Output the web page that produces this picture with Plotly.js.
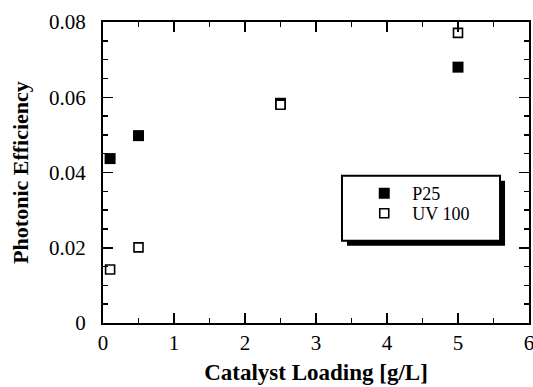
<!DOCTYPE html>
<html>
<head>
<meta charset="utf-8">
<script src="https://cdn.plot.ly/plotly-3.0.1.min.js"></script>
<style>html,body{margin:0;padding:0;background:#fff;}#chart{width:533px;height:387px;}</style>
</head>
<body>
<div id="chart"></div>
<script>
// Data
const loading = [0.1, 0.5, 2.5, 5];
const p25 = [0.0437, 0.0498, 0.0584, 0.068];
const uv100 = [0.0142, 0.0201, 0.0580, 0.0771];
const seriesNames = ["P25", "UV 100"];
const xTickVals = [0, 1, 2, 3, 4, 5, 6];
const yTickVals = [0, 0.02, 0.04, 0.06, 0.08];
const yTickText = ["0", "0.02", "0.04", "0.06", "0.08"];

const FONT = "Liberation Serif";

const traces = [
  {
    x: loading, y: p25, name: seriesNames[0], type: "scatter", mode: "markers", legend: "legend",
    marker: {symbol: "square", size: 11, color: "#000", line: {width: 0}}
  },
  {
    x: loading, y: uv100, name: seriesNames[1], type: "scatter", mode: "markers", legend: "legend2",
    marker: {symbol: "square", size: 9, color: "#fff", line: {width: 1.6, color: "#000"}}
  }
];

// legend box (decoration) in paper coordinates
const bx0 = 0.561, bx1 = 0.932, by0 = 0.273, by1 = 0.489;
const sdx = 5 / 426, sdy = 5 / 301;

const axisCommon = {
  showline: true, linewidth: 2, linecolor: "#000", mirror: "allticks",
  ticks: "inside", ticklen: 10, tickwidth: 1.5, tickcolor: "#000",
  showgrid: false, zeroline: false, ticklabeloverflow: "allow",
  tickfont: {family: FONT, size: 21, color: "#000"}
};

const legendCommon = {
  x: 0.5945, xanchor: "left", yanchor: "top",
  itemwidth: 46,
  bgcolor: "rgba(0,0,0,0)", borderwidth: 0,
  font: {family: FONT, size: 18, color: "#000"}
};

const layout = {
  width: 533, height: 387,
  margin: {l: 103, r: 4, t: 22, b: 64},
  paper_bgcolor: "#fff", plot_bgcolor: "#fff",
  font: {family: FONT, color: "#000"},
  showlegend: true,
  legend: Object.assign({}, legendCommon, {y: 0.4916}),
  legend2: Object.assign({}, legendCommon, {y: 0.4252}),
  xaxis: Object.assign({}, axisCommon, {
    range: [0, 6], tickvals: xTickVals, ticktext: xTickVals.map(String),
    minor: {dtick: 0.5, ticks: "inside", ticklen: 5, tickwidth: 1.5, tickcolor: "#000"},
    title: {text: "Catalyst Loading [g/L]", font: {family: FONT, size: 23, color: "#000", weight: "bold"}, standoff: 10}
  }),
  yaxis: Object.assign({}, axisCommon, {
    range: [0, 0.08], tickvals: yTickVals, ticktext: yTickText,
    ticklabelstandoff: 11,
    minor: {dtick: 0.005, ticks: "inside", ticklen: 5, tickwidth: 1.5, tickcolor: "#000"},
    title: {text: "Photonic Efficiency", font: {family: FONT, size: 22, color: "#000", weight: "bold"}, standoff: 14}
  }),
  shapes: [
    {type: "rect", xref: "paper", yref: "paper", x0: bx0 + sdx, x1: bx1 + sdx, y0: by0 - sdy, y1: by1 - sdy,
     fillcolor: "#000", line: {width: 0}, layer: "above"},
    {type: "rect", xref: "paper", yref: "paper", x0: bx0, x1: bx1, y0: by0, y1: by1,
     fillcolor: "#fff", line: {width: 2, color: "#000"}, layer: "above"}
  ]
};

Plotly.newPlot("chart", traces, layout, {displayModeBar: false, staticPlot: true});
</script>
</body>
</html>
